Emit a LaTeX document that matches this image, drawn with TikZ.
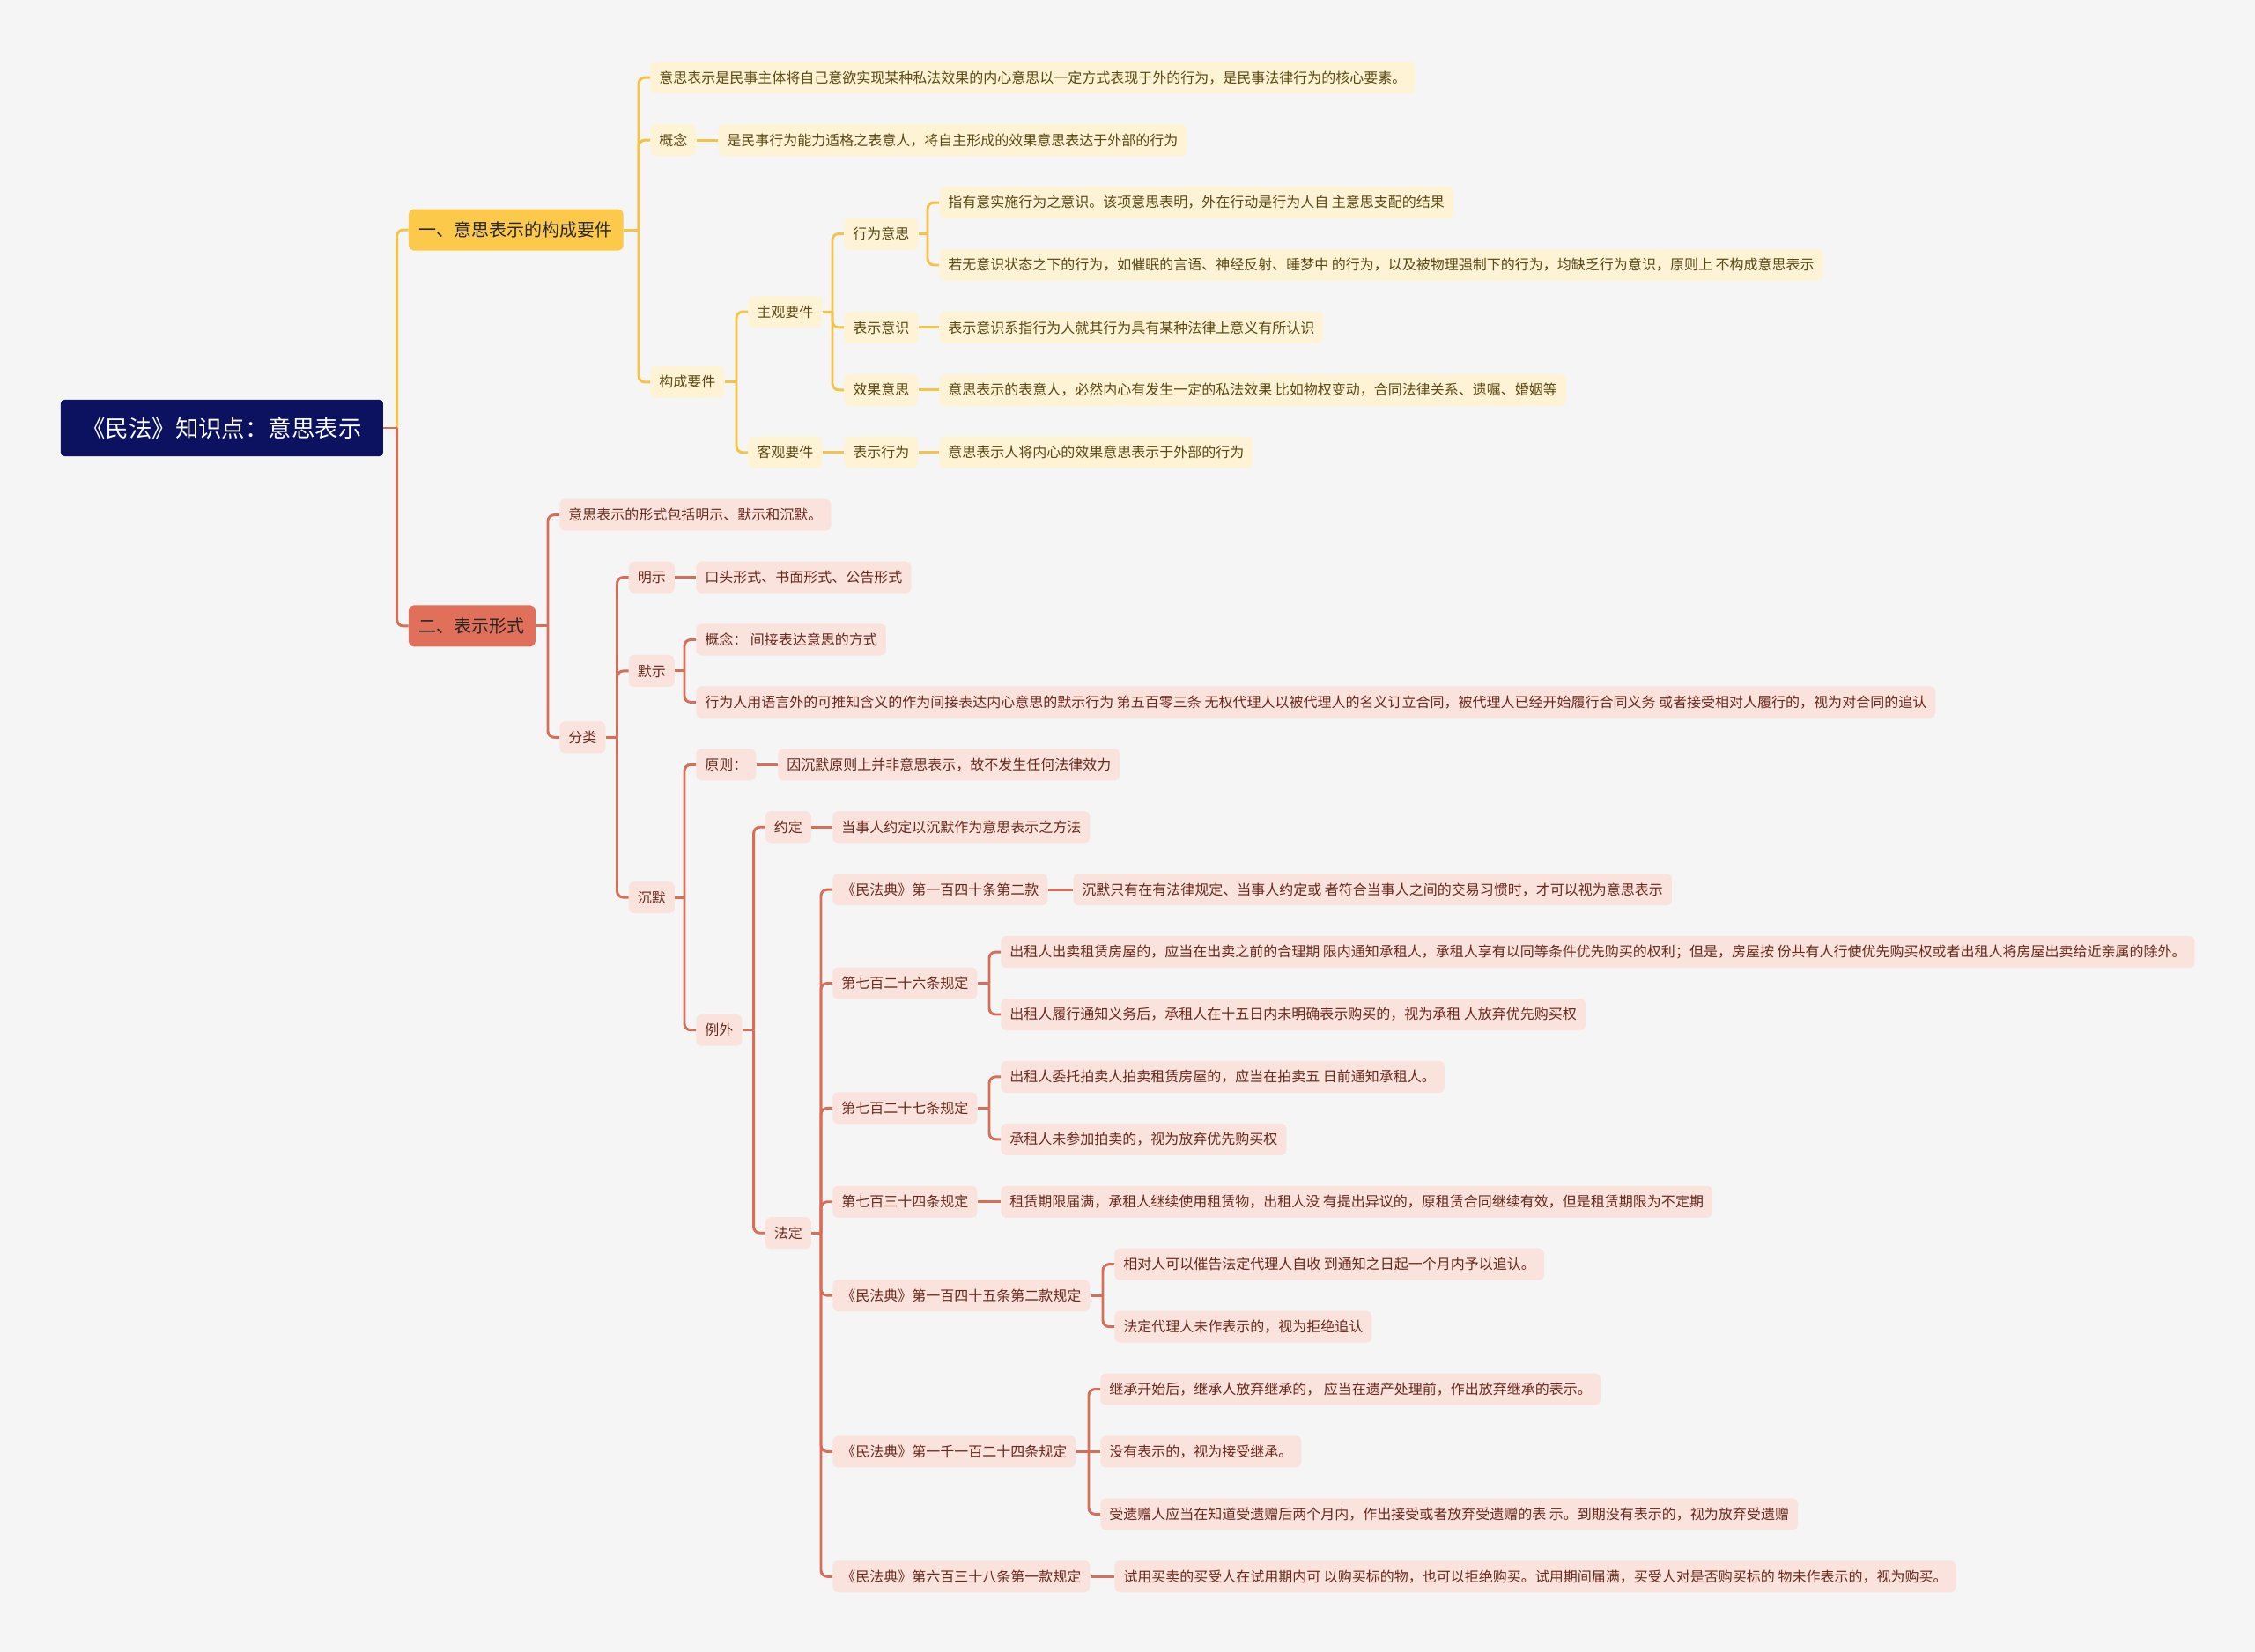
\documentclass[tikz,border=0pt]{standalone}
\usepackage{fontspec}
\usepackage{tikz}
\usetikzlibrary{positioning, calc}
\newfontfamily\cjk{Noto Sans CJK SC}
\definecolor{bgGray}{HTML}{F5F5F5}
\definecolor{rootBlue}{HTML}{0C1160}
\definecolor{ylwLine}{HTML}{F5C446}
\definecolor{ylwHead}{HTML}{FDC94B}
\definecolor{ylwFill}{HTML}{FFF3D6}
\definecolor{ylwText}{HTML}{5A4812}
\definecolor{redLine}{HTML}{D66E58}
\definecolor{redHead}{HTML}{E1705A}
\definecolor{redFill}{HTML}{FBE3DD}
\definecolor{redText}{HTML}{6A281C}
% parent -> child connector: stub, trunk, rounded turn into the child
\newcommand{\branch}[3]{%
	\draw[#1] (#2.east) -- ($(#3.west |- #2.east)+(-13,0)$);
	\draw[#1, rounded corners=5pt] ($(#3.west |- #2.east)+(-13,0)$) |- (#3.west);}
% straight connector for a child on the parent's own row
\newcommand{\stem}[3]{\draw[#1] (#2.east) -- (#3.west);}

\begin{document}
\begin{tikzpicture}[
			x=0.025cm, y=-1.7725cm,
			rootbox/.style={
					rectangle, fill=rootBlue, text=white, rounded corners=3pt, anchor=west,
					font=\cjk\fontsize{18.8}{22}\selectfont, minimum width=9.15cm, minimum height=1.6cm
				},
			heady/.style={
					rectangle, fill=ylwHead, text=black!85, rounded corners=4pt, anchor=west,
					font=\cjk\fontsize{14.2}{17}\selectfont, inner xsep=0.3cm, inner ysep=0pt, minimum height=1.175cm
				},
			headr/.style={heady, fill=redHead},
			leafy/.style={
					rectangle, fill=ylwFill, text=ylwText, rounded corners=4pt, anchor=west,
					font=\cjk\fontsize{11.38}{13.6}\selectfont, inner xsep=0.25cm, inner ysep=0pt, minimum height=0.9cm
				},
			leafr/.style={leafy, fill=redFill, text=redText},
			ylink/.style={draw=ylwLine, line width=2.1pt},
			rlink/.style={draw=redLine, line width=2.1pt}
		]

		% page background (rows are 70.9px apart, row 0 at y=88px)
		\fill[bgGray] (0,-1.244) rectangle (2560,25.2016);

		% root and the two main topics
		\node[rootbox] (root) at (68.6,5.609) {《民法》知识点：意思表示};
		\node[heady] (one) at (463.7,2.4375) {一、意思表示的构成要件};
		\node[headr] (two) at (463.7,8.781) {二、表示形式};

		% first topic
		\node[leafy] (def) at (738,0) {意思表示是民事主体将自己意欲实现某种私法效果的内心意思以一定方式表现于外的行为，是民事法律行为的核心要素。};
		\node[leafy] (concept) at (738,1) {概念};
		\node[leafy] (conceptTxt) at (815,1) {是民事行为能力适格之表意人，将自主形成的效果意思表达于外部的行为};
		\node[leafy] (elems) at (738,4.875) {构成要件};
		\node[leafy] (subj) at (849,3.75) {主观要件};
		\node[leafy] (obj) at (849,6) {客观要件};
		\node[leafy] (actWill) at (958,2.5) {行为意思};
		\node[leafy] (expAware) at (958,4) {表示意识};
		\node[leafy] (effWill) at (958,5) {效果意思};
		\node[leafy] (expAct) at (958,6) {表示行为};
		\node[leafy] (actWillA) at (1066,2) {指有意实施行为之意识。该项意思表明，外在行动是行为人自 主意思支配的结果};
		\node[leafy] (actWillB) at (1066,3) {若无意识状态之下的行为，如催眠的言语、神经反射、睡梦中 的行为，以及被物理强制下的行为，均缺乏行为意识，原则上 不构成意思表示};
		\node[leafy] (expAwareTxt) at (1066,4) {表示意识系指行为人就其行为具有某种法律上意义有所认识};
		\node[leafy] (effWillTxt) at (1066,5) {意思表示的表意人，必然内心有发生一定的私法效果 比如物权变动，合同法律关系、遗嘱、婚姻等};
		\node[leafy] (expActTxt) at (1066,6) {意思表示人将内心的效果意思表示于外部的行为};

		% second topic
		\node[leafr] (forms) at (635,7) {意思表示的形式包括明示、默示和沉默。};
		\node[leafr] (kinds) at (635,10.5625) {分类};
		\node[leafr] (explicit) at (713.5,8) {明示};
		\node[leafr] (implied) at (713.5,9.5) {默示};
		\node[leafr] (silence) at (713.5,13.125) {沉默};
		\node[leafr] (explicitTxt) at (790,8) {口头形式、书面形式、公告形式};
		\node[leafr] (impliedA) at (790,9) {概念：~间接表达意思的方式};
		\node[leafr] (impliedB) at (790,10) {行为人用语言外的可推知含义的作为间接表达内心意思的默示行为 第五百零三条 无权代理人以被代理人的名义订立合同，被代理人已经开始履行合同义务 或者接受相对人履行的，视为对合同的追认};
		\node[leafr] (rule) at (790,11) {原则：};
		\node[leafr] (ruleTxt) at (883,11) {因沉默原则上并非意思表示，故不发生任何法律效力};
		\node[leafr] (except) at (790,15.25) {例外};
		\node[leafr] (agreed) at (868.6,12) {约定};
		\node[leafr] (agreedTxt) at (945,12) {当事人约定以沉默作为意思表示之方法};
		\node[leafr] (legal) at (868.6,18.5) {法定};
		\node[leafr] (a140) at (945,13) {《民法典》第一百四十条第二款};
		\node[leafr] (a140Txt) at (1218,13) {沉默只有在有法律规定、当事人约定或 者符合当事人之间的交易习惯时，才可以视为意思表示};
		\node[leafr] (a726) at (945,14.5) {第七百二十六条规定};
		\node[leafr] (a726A) at (1136,14) {出租人出卖租赁房屋的，应当在出卖之前的合理期 限内通知承租人，承租人享有以同等条件优先购买的权利；但是，房屋按 份共有人行使优先购买权或者出租人将房屋出卖给近亲属的除外。};
		\node[leafr] (a726B) at (1136,15) {出租人履行通知义务后，承租人在十五日内未明确表示购买的，视为承租 人放弃优先购买权};
		\node[leafr] (a727) at (945,16.5) {第七百二十七条规定};
		\node[leafr] (a727A) at (1136,16) {出租人委托拍卖人拍卖租赁房屋的，应当在拍卖五 日前通知承租人。};
		\node[leafr] (a727B) at (1136,17) {承租人未参加拍卖的，视为放弃优先购买权};
		\node[leafr] (a734) at (945,18) {第七百三十四条规定};
		\node[leafr] (a734Txt) at (1136,18) {租赁期限届满，承租人继续使用租赁物，出租人没 有提出异议的，原租赁合同继续有效，但是租赁期限为不定期};
		\node[leafr] (a145) at (945,19.5) {《民法典》第一百四十五条第二款规定};
		\node[leafr] (a145A) at (1265,19) {相对人可以催告法定代理人自收 到通知之日起一个月内予以追认。};
		\node[leafr] (a145B) at (1265,20) {法定代理人未作表示的，视为拒绝追认};
		\node[leafr] (a1124) at (945,22) {《民法典》第一千一百二十四条规定};
		\node[leafr] (a1124A) at (1249,21) {继承开始后，继承人放弃继承的， 应当在遗产处理前，作出放弃继承的表示。};
		\node[leafr] (a1124B) at (1249,22) {没有表示的，视为接受继承。};
		\node[leafr] (a1124C) at (1249,23) {受遗赠人应当在知道受遗赠后两个月内，作出接受或者放弃受遗赠的表 示。到期没有表示的，视为放弃受遗赠};
		\node[leafr] (a638) at (945,24) {《民法典》第六百三十八条第一款规定};
		\node[leafr] (a638Txt) at (1265,24) {试用买卖的买受人在试用期内可 以购买标的物，也可以拒绝购买。试用期间届满，买受人对是否购买标的 物未作表示的，视为购买。};

		% connectors
		\branch{ylink}{root}{one}
		\branch{rlink}{root}{two}
		\foreach \p/\c in {one/def, one/concept, one/elems, elems/subj, elems/obj,
				subj/actWill, subj/expAware, subj/effWill, actWill/actWillA, actWill/actWillB}
			{\branch{ylink}{\p}{\c}}
		\foreach \p/\c in {concept/conceptTxt, obj/expAct, expAware/expAwareTxt, effWill/effWillTxt, expAct/expActTxt}
			{\stem{ylink}{\p}{\c}}
		\foreach \p/\c in {two/forms, two/kinds, kinds/explicit, kinds/implied, kinds/silence,
				implied/impliedA, implied/impliedB, silence/rule, silence/except,
				except/agreed, except/legal,
				legal/a140, legal/a726, legal/a727, legal/a734, legal/a145, legal/a1124, legal/a638,
				a726/a726A, a726/a726B, a727/a727A, a727/a727B,
				a145/a145A, a145/a145B, a1124/a1124A, a1124/a1124C}
			{\branch{rlink}{\p}{\c}}
		\foreach \p/\c in {explicit/explicitTxt, rule/ruleTxt, agreed/agreedTxt, a140/a140Txt,
				a734/a734Txt, a1124/a1124B, a638/a638Txt}
			{\stem{rlink}{\p}{\c}}

	\end{tikzpicture}
\end{document}
